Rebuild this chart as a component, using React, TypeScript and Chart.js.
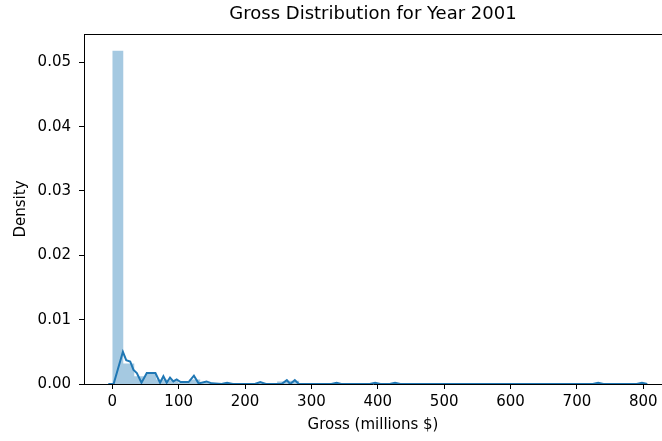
import { useEffect, useRef } from "react";
import { Chart, registerables } from "chart.js";

Chart.register(...registerables);

const TITLE = "Gross Distribution for Year 2001";
const X_LABEL = "Gross (millions $)";
const Y_LABEL = "Density";

const xTicks = [0, 100, 200, 300, 400, 500, 600, 700, 800];
const yTicks = [0, 0.01, 0.02, 0.03, 0.04, 0.05];
const X_MIN = -42.6;
const X_MAX = 828.2;
const Y_MAX = 0.0544;

// histogram bin edges (millions $) and densities
const binEdges = [
  0, 16.56, 33.12, 49.68, 66.24, 82.8, 99.36, 115.92, 132.48, 149.04, 165.6,
  182.16, 198.72, 215.28, 231.84, 248.4, 264.96, 281.52, 298.08, 314.64, 331.2,
  347.76, 364.32, 380.88, 397.44, 414, 430.56, 447.12, 463.68, 480.24, 496.8,
  513.36, 529.92, 546.48, 563.04, 579.6, 596.16, 612.72, 629.28, 645.84, 662.4,
  678.96, 695.52, 712.08, 728.64, 745.2, 761.76, 778.32, 794.88,
];
const binDensity = [
  0.0518, 0.0032, 0.0012, 0.0016, 0.0007, 0.0006, 0.0002, 0.0007, 0.0003, 0.0,
  0.0002, 0.0, 0.0, 0.0002, 0.0, 0.0004, 0.0005, 0.0, 0.0, 0.0,
  0.0001, 0.0, 0.0, 0.0001, 0.0, 0.0001, 0.0, 0.0, 0.0, 0.0,
  0.0, 0.0, 0.0, 0.0, 0.0, 0.0, 0.0, 0.0, 0.0, 0.0,
  0.0, 0.0, 0.0, 0.0, 0.0001, 0.0, 0.0, 0.0001,
];

// KDE curve
const kdeX = [
  -6, 2, 16, 21, 27, 32, 37, 44, 52, 60, 65, 72, 77, 82, 87, 92, 97, 103, 115,
  123, 130, 142, 150, 165, 173, 181, 215, 223, 231, 255, 263, 268, 275, 281,
  330, 338, 345, 388, 396, 404, 418, 426, 434, 724, 732, 740, 790, 798, 806,
];
const kdeY = [
  0, 0, 0.005, 0.0037, 0.0035, 0.0022, 0.0017, 0.0002, 0.0017, 0.0017, 0.0017,
  0.0002, 0.0012, 0.0002, 0.001, 0.0004, 0.0007, 0.0003, 0.0003,
  0.0013, 0.0001, 0.0004, 0.0001, 0, 0.0002, 0, 0, 0.0003, 0, 0, 0.0006, 0,
  0.0006, 0, 0, 0.0002, 0, 0, 0.0002, 0, 0, 0.0002, 0, 0, 0.0002, 0, 0,
  0.0002, 0,
];

const FONT = "DejaVu Sans";

const framePlugin = {
  id: "frameTop",
  afterDraw(chart: any) {
    const { ctx, chartArea } = chart;
    ctx.save();
    ctx.strokeStyle = "#000";
    ctx.lineWidth = 1;
    ctx.beginPath();
    ctx.moveTo(chartArea.left, chartArea.top + 0.5);
    ctx.lineTo(chartArea.right, chartArea.top + 0.5);
    ctx.stroke();
    ctx.restore();
  },
};

export default function App() {
  const ref = useRef<HTMLCanvasElement | null>(null);

  useEffect(() => {
    if (!ref.current) return;
    const histPts: { x: number; y: number }[] = [];
    for (let i = 0; i < binDensity.length; i++) {
      histPts.push({ x: binEdges[i], y: binDensity[i] });
      histPts.push({ x: binEdges[i + 1], y: binDensity[i] });
    }
    const kdePts = kdeX.map((x, i) => ({ x, y: kdeY[i] }));
    const tickFont = { family: FONT, size: 15, weight: "normal" as const, lineHeight: 1.2 };

    const chart = new Chart(ref.current, {
      type: "line",
      data: {
        datasets: [
          {
            data: kdePts,
            borderColor: "#1f77b4",
            borderWidth: 2,
            pointRadius: 0,
            fill: false,
            tension: 0,
            order: 0,
          },
          {
            data: histPts,
            borderWidth: 0,
            borderColor: "rgba(0,0,0,0)",
            backgroundColor: "rgba(31,119,180,0.4)",
            pointRadius: 0,
            fill: "origin",
            tension: 0,
            order: 1,
          },
        ],
      },
      options: {
        responsive: false,
        animation: false,
        layout: { padding: 0 },
        plugins: {
          legend: { display: false },
          tooltip: { enabled: false },
          title: {
            display: true,
            text: TITLE,
            fullSize: false,
            color: "#000",
            font: { family: FONT, size: 18, weight: "normal", lineHeight: 1.2 },
            padding: { top: 4, bottom: 8.4 },
          },
        },
        scales: {
          x: {
            type: "linear",
            min: X_MIN,
            max: X_MAX,
            afterBuildTicks: (s: any) => {
              s.ticks = xTicks.map((v) => ({ value: v }));
            },
            afterFit: (s: any) => {
              s.height = 57;
            },
            grid: { drawOnChartArea: false, drawTicks: true, tickLength: 5, color: "#000" },
            border: { display: true, color: "#000", width: 1 },
            ticks: {
              color: "#000",
              font: tickFont,
              padding: 4,
              maxRotation: 0,
              autoSkip: false,
              callback: (v: any) => String(v),
            },
            title: {
              display: true,
              text: X_LABEL,
              color: "#000",
              font: tickFont,
              padding: { top: 0, bottom: 7 },
            },
          },
          y: {
            type: "linear",
            min: 0,
            max: Y_MAX,
            afterBuildTicks: (s: any) => {
              s.ticks = yTicks.map((v) => ({ value: v }));
            },
            afterFit: (s: any) => {
              s.width = 84;
            },
            grid: { drawOnChartArea: false, drawTicks: true, tickLength: 5, color: "#000" },
            border: { display: true, color: "#000", width: 1 },
            ticks: {
              color: "#000",
              font: tickFont,
              padding: 8,
              autoSkip: false,
              callback: (v: any) => Number(v).toFixed(2),
            },
            title: {
              display: true,
              text: Y_LABEL,
              color: "#000",
              font: tickFont,
              padding: { top: 12.5, bottom: 0 },
            },
          },
        },
      },
      plugins: [framePlugin],
    });
    return () => chart.destroy();
  }, []);

  return (
    <div style={{ position: "fixed", left: 0, top: 0, width: 662, height: 441, overflow: "hidden", background: "#fff" }}>
      <canvas ref={ref} width={662} height={441} style={{ display: "block" }} />
    </div>
  );
}
